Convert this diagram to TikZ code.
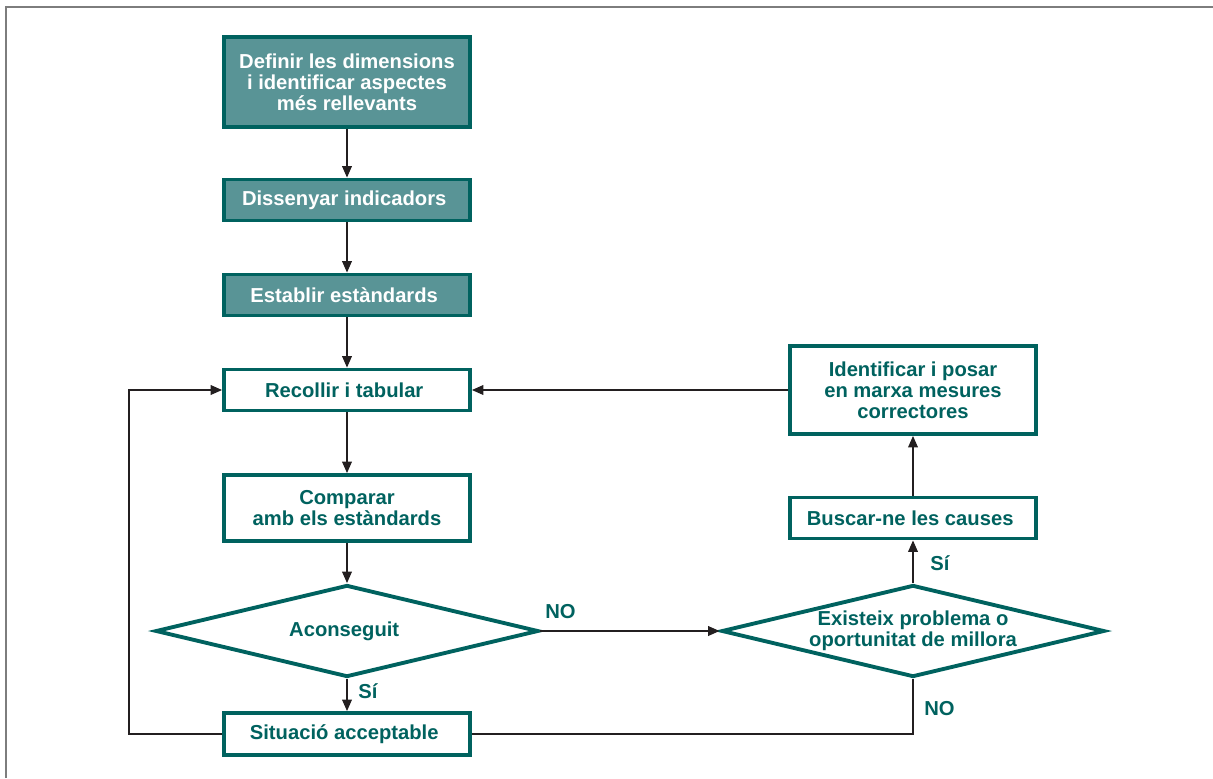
\documentclass[tikz,border=0pt]{standalone}
\usepackage{fontspec}
\setmainfont{Liberation Sans}
\usetikzlibrary{arrows.meta,positioning,shapes.geometric}
\usepackage{xcolor}

\definecolor{tealdark}{RGB}{0,98,95}
\definecolor{tealfill}{RGB}{89,148,150}
\definecolor{linkgray}{RGB}{35,31,32}
\definecolor{framegray}{RGB}{125,125,125}

\begin{document}
\begin{tikzpicture}[x=0.02cm, y=-0.02cm,
    every node/.style={
        font=\fontsize{11.5}{12}\selectfont\bfseries,
        align=center,
        inner sep=2pt
    },
    stepbox/.style={
        rectangle,
        draw=tealdark,
        line width=2.2pt,
        fill=white,
        text=tealdark,
        minimum width=4.92cm,
        minimum height=0.82cm
    },
    stepfill/.style={
        stepbox,
        fill=tealfill,
        text=white
    },
    decision/.style={
        diamond,
        aspect=4.2,
        draw=tealdark,
        line width=2.2pt,
        text=tealdark,
        inner sep=0pt,
        minimum width=7.66cm,
        minimum height=1.84cm
    },
    answer/.style={
        text=tealdark,
        inner sep=0pt
    },
    link/.style={
        -{Triangle[length=6.5pt, width=5.5pt]},
        draw=linkgray,
        line width=0.8pt
    },
    plain/.style={
        draw=linkgray,
        line width=0.8pt
    }
]

    \useasboundingbox (0,0) rectangle (1213,778);
    \draw[framegray, line width=1.2pt] (6,778) |- (1213,7);



    \node (definir) [stepfill, minimum height=1.8cm, shift={(347, 82)}]
    {
        Definir les dimensions\\
        i identificar aspectes\\
        més rellevants
    };

    \node (dissenyar) [stepfill, shift={(347, 200)}]
    {
        Dissenyar indicadors
    };

    \node (establir) [stepfill, shift={(347, 295)}]
    {
        Establir estàndards
    };

    \node (recollir) [stepbox, shift={(347, 390)}]
    {
        Recollir i tabular
    };

    \node (comparar) [stepbox, minimum height=1.32cm, shift={(347, 508)}]
    {
        Comparar\\
        amb els estàndards
    };

    \node (aconseguit) [decision, shift={(347, 631)}]
    {
        Aconseguit
    };

    \node (acceptable) [stepbox, minimum height=0.84cm, shift={(347, 734)}]
    {
        Situació acceptable
    };



    \node (existeix) [decision, shift={(913, 631)}]
    {
        Existeix problema o\\
        oportunitat de millora
    };

    \node (buscar) [stepbox, shift={(913, 518)}]
    {
        Buscar-ne les causes
    };

    \node (identificar) [stepbox, minimum height=1.76cm, shift={(913, 390)}]
    {
        Identificar i posar\\
        en marxa mesures\\
        correctores
    };



    \node (no_aconseguit) [answer, anchor=west, shift={(545, 612)}] {NO};
    \node (si_aconseguit) [answer, anchor=west, shift={(358, 691)}] {Sí};
    \node (si_existeix) [answer, anchor=west, shift={(930, 563)}] {Sí};
    \node (no_existeix) [answer, anchor=west, shift={(924, 709)}] {NO};


    \draw[link] (definir) to (dissenyar);
    \draw[link] (dissenyar) to (establir);
    \draw[link] (establir) to (recollir);
    \draw[link] (recollir) to (comparar);
    \draw[link] (comparar) to (aconseguit);
    \draw[link] (aconseguit) to (acceptable);
    \draw[link] (aconseguit) to (existeix);
    \draw[plain] (existeix.south) |- (acceptable.east);
    \draw[link] (acceptable.west) -- ++(-93, 0) |- (recollir.west);
    \draw[link] (existeix) to (buscar);
    \draw[link] (buscar) to (identificar);
    \draw[link] (identificar) to (recollir);


\end{tikzpicture}
\end{document}
